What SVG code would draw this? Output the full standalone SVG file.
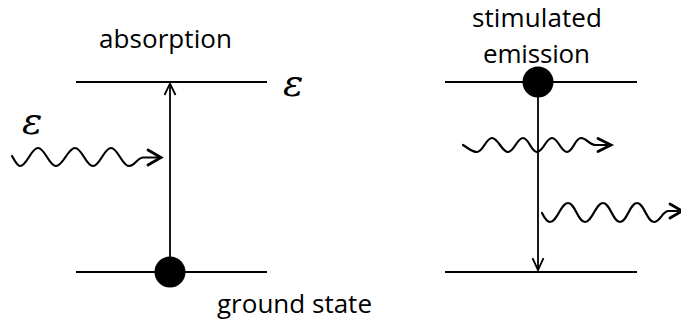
<svg xmlns="http://www.w3.org/2000/svg" width="681" height="322" viewBox="0 0 681 322">
<style>
.lvl{stroke:#000;stroke-width:2;fill:none}
.ar{stroke:#000;stroke-width:1.8;fill:none}
.wave{stroke:#000;stroke-width:2.2;fill:none;stroke-linecap:round}
.wh{stroke:#000;stroke-width:2.8;fill:none;stroke-linecap:round;stroke-linejoin:miter}
.lbl{font-family:"Open Sans","Liberation Sans",sans-serif;font-size:26px;fill:#000;text-anchor:middle}
.eps{font-family:"DejaVu Serif","Liberation Serif",serif;font-style:italic;font-size:38px;fill:#000}
</style>
<rect width="681" height="322" fill="#fff"/>
<g id="connectors">
  <path class="ar" d="M170,272 V84"/>
  <path class="ar" d="M164.5,95 L170,83.5 L175.5,95"/>
  <path class="ar" d="M538,82 V269"/>
  <path class="ar" d="M532.5,258 L538,270 L543.5,258"/>
  <path class="wave" d="M12,156 C15,161 17,166 20,166 C27,166 31,148 38,148 C45,148 49,166 56,166 C63,166 68,148 75,148 C82,148 86,166 93,166 C100,166 104,148 111,148 C118,148 122,166 129,166 C135,166 137,158 143,157.5 L158,157.5"/>
  <path class="wh" d="M148,150 L161,157.5 L148,165"/>
  <path class="wave" d="M463,145 C468,148 472,152 477,152 C483,152 486,138 492,138 C498,138 502,152 508,152 C514,152 517,138 523,138 C529,138 531,152 537,152 C543,152 546,138 552,138 C558,138 561,152 567,152 C573,152 575,138 581,138 C587,138 589,145 596,145 L608,145"/>
  <path class="wh" d="M598,138.5 L611,145 L598,151.5"/>
  <path class="wave" d="M542,213 C545,219 547,222 550,222 C557,222 561,203 568,203 C575,203 578,222 585,222 C592,222 596,203 603,203 C610,203 613,222 620,222 C627,222 630,203 637,203 C644,203 647,222 654,222 C660,222 662,212 668,211 L678,211"/>
  <path class="wh" d="M670,204 L682,211 L670,218"/>
</g>
<g id="absorption">
  <line class="lvl" x1="76" y1="82" x2="267" y2="82"/>
  <line class="lvl" x1="76" y1="272" x2="267" y2="272"/>
  <circle cx="170" cy="272" r="15.5" fill="#000"/>
  <text class="lbl" x="165.5" y="48" textLength="133">absorption</text>
  <text class="lbl" x="294.5" y="313" textLength="155">ground state</text>
  <text class="eps" x="22" y="134">ε</text>
  <text class="eps" x="283" y="96">ε</text>
</g>
<g id="emission">
  <line class="lvl" x1="445" y1="82" x2="637" y2="82"/>
  <line class="lvl" x1="445" y1="272" x2="637" y2="272"/>
  <circle cx="538" cy="82" r="15.5" fill="#000"/>
  <text class="lbl" x="537" y="27" textLength="130">stimulated</text>
  <text class="lbl" x="536.5" y="63" textLength="107">emission</text>
</g>
</svg>
